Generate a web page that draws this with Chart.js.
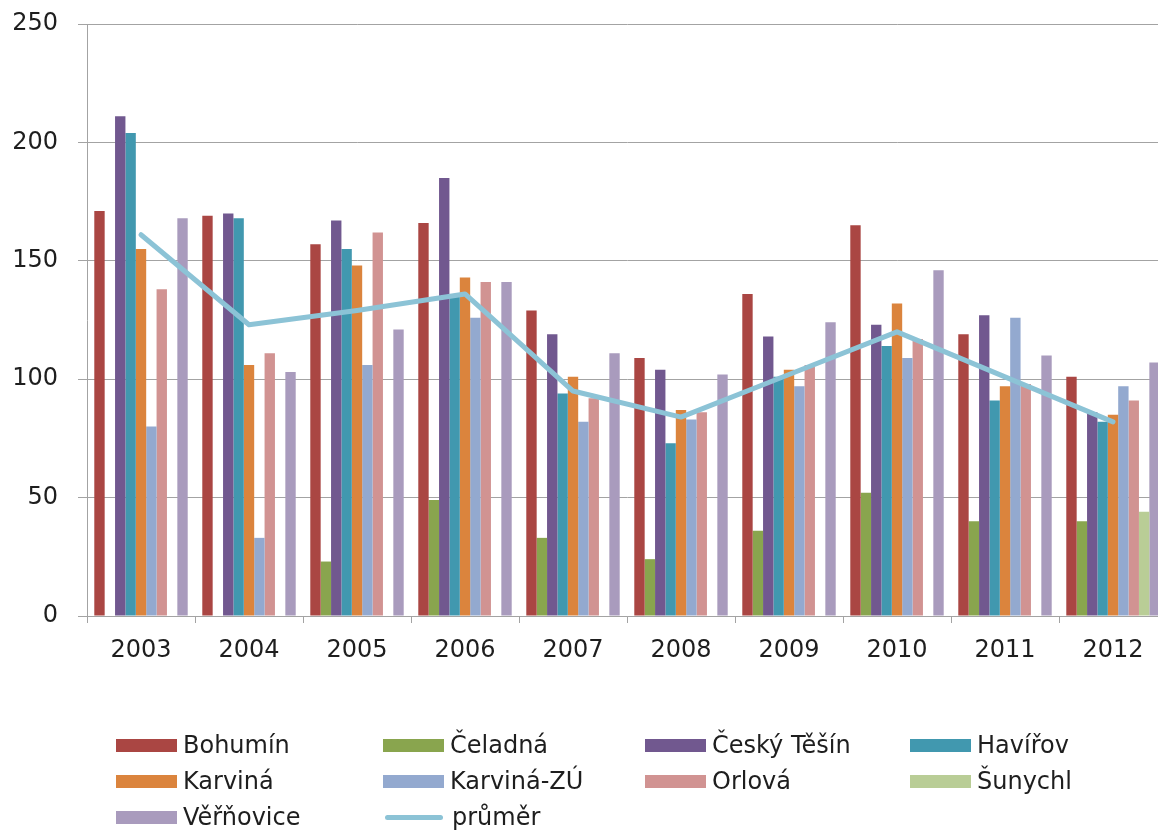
<!DOCTYPE html>
<html lang="cs">
<head>
<meta charset="utf-8">
<title>Průměr podle lokalit 2003–2012</title>
<script src="https://cdn.jsdelivr.net/npm/chart.js@4/dist/chart.umd.min.js"></script>
<style>
  html, body { margin: 0; padding: 0; background: #fff; overflow: hidden; }
  #wrap { position: relative; width: 1158px; height: 831px; overflow: hidden; }
  #c { position: absolute; left: 0; top: 0; }
  #legend { position: absolute; left: 0; top: 0; width: 1158px; height: 831px; pointer-events: none;
            font-family: "DejaVu Sans", sans-serif; font-size: 24px; color: #1e1e1e; }
  .item { position: absolute; display: flex; align-items: center; height: 30px; white-space: nowrap; }
  .sw { width: 61px; height: 13px; margin-right: 6px; }
  .ln { width: 58px; height: 5px; border-radius: 3px; margin-right: 9px; }
</style>
</head>
<body>
<div id="wrap">
  <canvas id="c" width="1170" height="690"></canvas>
  <div id="legend"></div>
</div>
<script>
// Years on the category axis
const years = ['2003', '2004', '2005', '2006', '2007', '2008', '2009', '2010', '2011', '2012'];

// Values per locality (null = no measurement that year)
const bohumin     = [171, 169, 157, 166, 129, 109, 136, 165, 119, 101];
const celadna     = [null, null, 23, 49, 33, 24, 36, 52, 40, 40];
const ceskyTesin  = [211, 170, 167, 185, 119, 104, 118, 123, 127, 86];
const havirov     = [204, 168, 155, 135, 94, 73, 101, 114, 91, 82];
const karvina     = [155, 106, 148, 143, 101, 87, 104, 132, 97, 85];
const karvinaZU   = [80, 33, 106, 126, 82, 83, 97, 109, 126, 97];
const orlova      = [138, 111, 162, 141, 92, 86, 106, 117, 98, 91];
const sunychl     = [null, null, null, null, null, null, null, null, null, 44];
const vernovice   = [168, 103, 121, 141, 111, 102, 124, 146, 110, 107];
const prumer      = [161, 123, 129, 136, 95, 84, 102, 120, 101, 82];

// Y axis ticks
const yTicks = [0, 50, 100, 150, 200, 250];

const barSeries = [
  { label: 'Bohumín',     data: bohumin,    color: '#AA4643' },
  { label: 'Čeladná',     data: celadna,    color: '#89A54E' },
  { label: 'Český Těšín', data: ceskyTesin, color: '#71588F' },
  { label: 'Havířov',     data: havirov,    color: '#4198AF' },
  { label: 'Karviná',     data: karvina,    color: '#DB843D' },
  { label: 'Karviná-ZÚ',  data: karvinaZU,  color: '#93A9CF' },
  { label: 'Orlová',      data: orlova,     color: '#D19392' },
  { label: 'Šunychl',     data: sunychl,    color: '#B9CD96' },
  { label: 'Věřňovice',   data: vernovice,  color: '#A99BBD' }
];
const lineSeries = { label: 'průměr', data: prumer, color: '#8CC3D6' };

const datasets = barSeries.map(s => ({
  type: 'bar',
  label: s.label,
  data: s.data,
  backgroundColor: s.color,
  borderWidth: 0,
  categoryPercentage: 0.865,
  barPercentage: 1.0,
  order: 2
}));
datasets.push({
  type: 'line',
  label: lineSeries.label,
  data: lineSeries.data,
  borderColor: lineSeries.color,
  backgroundColor: lineSeries.color,
  borderWidth: 5,
  pointRadius: 0,
  tension: 0,
  borderCapStyle: 'round',
  borderJoinStyle: 'round',
  order: 1
});

const axisColor = '#a3a3a3';
const tickFont = { family: '"DejaVu Sans", sans-serif', size: 24 };

new Chart(document.getElementById('c'), {
  type: 'bar',
  data: { labels: years, datasets },
  options: {
    responsive: false,
    animation: false,
    devicePixelRatio: 1,
    layout: { padding: { left: 0, right: 3, top: 24, bottom: 0 } },
    plugins: { legend: { display: false }, tooltip: { enabled: false } },
    scales: {
      x: {
        offset: true,
        grid: { display: true, offset: true, drawOnChartArea: false, color: axisColor, tickLength: 7, lineWidth: 1 },
        border: { display: true, color: axisColor, width: 1 },
        ticks: { color: '#1e1e1e', font: tickFont, padding: 13, maxRotation: 0 },
        afterFit: s => { s.height = 74; s.paddingLeft = 0; s.paddingRight = 0; }
      },
      y: {
        min: 0,
        max: 250,
        afterBuildTicks: s => { s.ticks = yTicks.map(v => ({ value: v })); },
        grid: { color: axisColor, tickLength: 9, lineWidth: 1 },
        border: { display: true, color: axisColor, width: 1 },
        ticks: { color: '#1e1e1e', font: tickFont, padding: 20 },
        afterFit: s => { s.width = 87; s.paddingTop = 0; s.paddingBottom = 0; }
      }
    }
  }
});

// Legend laid out in four columns, built from the same series
const legendItems = barSeries.map(s => ({ label: s.label, color: s.color, line: false }));
legendItems.push({ label: lineSeries.label, color: lineSeries.color, line: true });
const colX = [116, 383, 645, 910];
const rowY = [730, 766, 802];
const legend = document.getElementById('legend');
legendItems.forEach((it, i) => {
  const el = document.createElement('div');
  el.className = 'item';
  el.style.left = (it.line ? colX[i % 4] + 2 : colX[i % 4]) + 'px';
  el.style.top = rowY[Math.floor(i / 4)] + 'px';
  const sw = document.createElement('span');
  sw.className = it.line ? 'ln' : 'sw';
  sw.style.background = it.color;
  const tx = document.createElement('span');
  tx.textContent = it.label;
  el.appendChild(sw);
  el.appendChild(tx);
  legend.appendChild(el);
});
</script>
</body>
</html>
